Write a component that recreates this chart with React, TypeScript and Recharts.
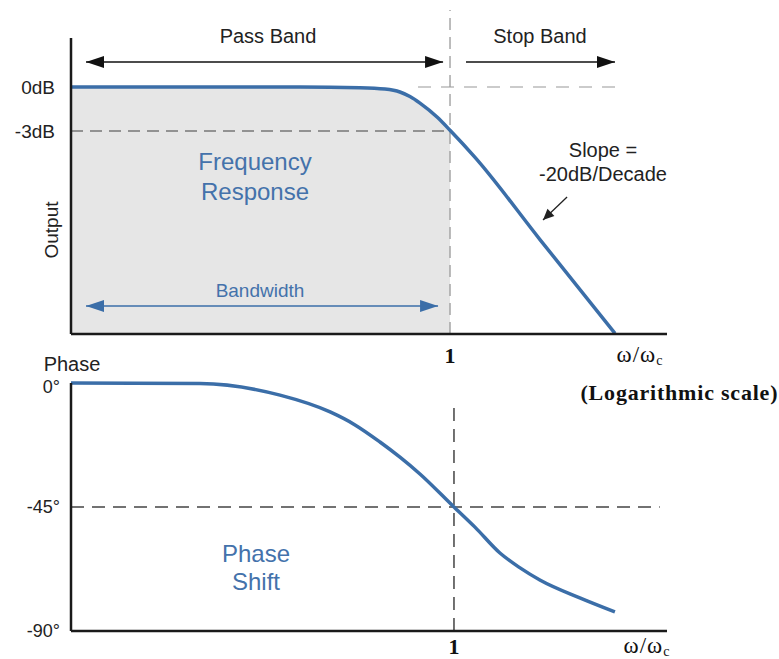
import React from "react";
import {
  Area,
  ComposedChart,
  Line,
  ReferenceLine,
  XAxis,
  YAxis,
} from "recharts";

// magnitude response, w/wc on a log axis
const freqTop = [0.00784, 0.147, 0.316, 0.435, 0.527, 0.599, 0.681, 0.847, 1, 1.377, 3.16, 8.25];
const magnitudeDb = [0, 0, -0.05, -0.14, -0.34, -0.65, -1.1, -2.05, -2.95, -4.8, -10.4, -16.8];

// phase response
const freqBottom = [
  0.00745, 0.0388, 0.108, 0.205, 0.282, 0.388, 0.501, 0.647, 1, 1.308, 1.8, 2.33, 3.0, 5.0, 7.84,
];
const phaseDeg = [
  0, -0.2, -4.4, -10.5, -15.2, -21.4, -26.9, -33.0, -45, -52.3, -61.7, -67.1, -71.5, -78, -83.1,
];

const dbTicks = [0, -3];
const phaseTicks = [0, -45, -90];
const cornerTicks = [1];

const magData = freqTop.map((w, i) => ({
  w,
  mag: magnitudeDb[i],
  shade: w <= 1 ? magnitudeDb[i] : null,
}));
const phaseData = freqBottom.map((w, i) => ({ w, phase: phaseDeg[i] }));

const BLUE = "#3b6ea8";
const TEXT_BLUE = "#4472ab";
const SANS = "'Liberation Sans', Arial, sans-serif";
const SERIF = "'Liberation Serif', 'Times New Roman', serif";
const AXIS = { stroke: "#1a1a1a", strokeWidth: 2.5 };

const arrow =
  (color: string, both: boolean, head = 18, half = 6, width = 1.6) =>
  (p: any) => {
    const { x1, y1, x2, y2 } = p;
    const a = Math.atan2(y2 - y1, x2 - x1);
    const tri = (x: number, y: number, ang: number) => {
      const bx = x - head * Math.cos(ang);
      const by = y - head * Math.sin(ang);
      return `${x},${y} ${bx - half * Math.sin(ang)},${by + half * Math.cos(ang)} ${
        bx + half * Math.sin(ang)
      },${by - half * Math.cos(ang)}`;
    };
    return (
      <g>
        <line x1={x1} y1={y1} x2={x2} y2={y2} stroke={color} strokeWidth={width} />
        <polygon points={tri(x2, y2, a)} fill={color} />
        {both && <polygon points={tri(x1, y1, a + Math.PI)} fill={color} />}
      </g>
    );
  };

const OmegaLabel = ({ x, y }: { x: number; y: number }) => (
  <text x={x} y={y} textAnchor="middle" fontFamily={SERIF} fontSize={23} fill="#111" letterSpacing={1}>
    ω/ω
    <tspan fontSize={14} dy={3}>
      c
    </tspan>
  </text>
);

const PhaseTick = (p: any) => {
  const { x, y, payload } = p;
  return (
    <text
      x={x}
      y={y + (payload.value === 0 ? 4 : 0)}
      dy="0.35em"
      textAnchor="end"
      fontFamily={SANS}
      fontSize={18}
      fill="#222"
    >
      {payload.value}°
    </text>
  );
};

export default function App() {
  return (
    <div
      style={{
        position: "absolute",
        left: 0,
        top: 0,
        width: 779,
        height: 659,
        background: "#fff",
      }}
    >
      <div style={{ position: "absolute", left: 0, top: 0 }}>
        <ComposedChart
          width={779}
          height={370}
          data={magData}
          margin={{ top: 38, right: 112, bottom: 6, left: 11 }}
        >
          <XAxis
            dataKey="w"
            type="number"
            scale="log"
            domain={[0.00784, 16.05]}
            ticks={cornerTicks}
            height={30}
            axisLine={AXIS}
            tickLine={false}
            tickSize={0}
            tickMargin={13}
            tick={{ fill: "#111", fontSize: 22, fontWeight: 700, fontFamily: SERIF }}
          />
          <YAxis
            type="number"
            domain={[-16.84, 3.34]}
            ticks={dbTicks}
            width={60}
            axisLine={AXIS}
            tickLine={false}
            tickSize={0}
            tickMargin={16}
            tickFormatter={(v: number) => `${v}dB`}
            tick={{ fill: "#222", fontSize: 19, fontFamily: SANS }}
          />
          <Area
            dataKey="shade"
            type="monotone"
            baseValue="dataMin"
            fill="#e6e6e6"
            fillOpacity={1}
            stroke="none"
            isAnimationActive={false}
          />
          <ReferenceLine
            segment={[{ x: 0.00784, y: -3 }, { x: 1, y: -3 }]}
            stroke="#777"
            strokeWidth={1.3}
            strokeDasharray="12 7"
          />
          <ReferenceLine
            segment={[{ x: 0.664, y: 0 }, { x: 8.47, y: 0 }]}
            stroke="#bbb"
            strokeWidth={1.3}
            strokeDasharray="13 10"
          />
          <ReferenceLine
            segment={[{ x: 1, y: -16.84 }, { x: 1, y: 5.25 }]}
            ifOverflow="visible"
            stroke="#999"
            strokeWidth={1.3}
            strokeDasharray="12 7"
          />
          <ReferenceLine
            segment={[{ x: 0.0095, y: 1.7 }, { x: 0.915, y: 1.7 }]}
            shape={arrow("#111", true)}
          />
          <ReferenceLine
            segment={[{ x: 1.227, y: 1.7 }, { x: 8.25, y: 1.7 }]}
            shape={arrow("#111", false)}
          />
          <ReferenceLine
            segment={[{ x: 0.0095, y: -14.93 }, { x: 0.858, y: -14.93 }]}
            shape={arrow(BLUE, true)}
          />
          <ReferenceLine
            segment={[{ x: 4.47, y: -7.5 }, { x: 3.285, y: -9.07 }]}
            shape={arrow("#222", false, 11, 5, 1.3)}
          />
          <Line
            dataKey="mag"
            type="monotone"
            stroke={BLUE}
            strokeWidth={3.5}
            dot={false}
            isAnimationActive={false}
          />
        </ComposedChart>
      </div>
      {/* annotations on top of the shaded pass band */}
      <svg
        width={779}
        height={370}
        style={{ position: "absolute", left: 0, top: 0, pointerEvents: "none" }}
      >
        <text x={268} y={43} textAnchor="middle" fontFamily={SANS} fontSize={20} fill="#222">
          Pass Band
        </text>
        <text x={540} y={43} textAnchor="middle" fontFamily={SANS} fontSize={20} fill="#222">
          Stop Band
        </text>
        <text x={255} y={170} textAnchor="middle" fontFamily={SANS} fontSize={24} fill={TEXT_BLUE}>
          Frequency
        </text>
        <text x={255} y={200} textAnchor="middle" fontFamily={SANS} fontSize={24} fill={TEXT_BLUE}>
          Response
        </text>
        <text x={260} y={297} textAnchor="middle" fontFamily={SANS} fontSize={19} fill={TEXT_BLUE}>
          Bandwidth
        </text>
        <text x={603} y={157} textAnchor="middle" fontFamily={SANS} fontSize={20} fill="#222">
          Slope =
        </text>
        <text x={603} y={181} textAnchor="middle" fontFamily={SANS} fontSize={20} fill="#222">
          -20dB/Decade
        </text>
        <text
          x={58}
          y={230}
          textAnchor="middle"
          transform="rotate(-90 58 230)"
          fontFamily={SANS}
          fontSize={19}
          fill="#222"
        >
          Output
        </text>
        <OmegaLabel x={640} y={362} />
      </svg>
      <div style={{ position: "absolute", left: 0, top: 340 }}>
        <ComposedChart
          width={779}
          height={319}
          data={phaseData}
          margin={{ top: 43, right: 112, bottom: 8, left: 11 }}
        >
          <XAxis
            dataKey="w"
            type="number"
            scale="log"
            domain={[0.00745, 15.26]}
            ticks={cornerTicks}
            height={20}
            axisLine={AXIS}
            tickLine={false}
            tickSize={0}
            tickMargin={7}
            tick={{ fill: "#111", fontSize: 22, fontWeight: 700, fontFamily: SERIF }}
          />
          <YAxis
            type="number"
            domain={[-90, 0]}
            ticks={phaseTicks}
            width={60}
            axisLine={AXIS}
            tickLine={false}
            tickSize={0}
            tickMargin={11}
            tick={<PhaseTick />}
          />
          <ReferenceLine
            segment={[{ x: 0.00745, y: -45 }, { x: 13.9, y: -45 }]}
            stroke="#444"
            strokeWidth={1.5}
            strokeDasharray="13 8"
          />
          <ReferenceLine
            segment={[{ x: 1, y: -90 }, { x: 1, y: -6.2 }]}
            stroke="#444"
            strokeWidth={1.5}
            strokeDasharray="13 8"
          />
          <Line
            dataKey="phase"
            type="monotone"
            stroke={BLUE}
            strokeWidth={3.5}
            dot={false}
            isAnimationActive={false}
          />
          <text x={72} y={31} textAnchor="middle" fontFamily={SANS} fontSize={20} fill="#222">
            Phase
          </text>
          <text
            x={679}
            y={60}
            textAnchor="middle"
            fontFamily={SERIF}
            fontSize={22}
            fontWeight={700}
            fill="#111"
            textLength={197}
            lengthAdjust="spacing"
          >
            (Logarithmic scale)
          </text>
          <text x={256} y={222} textAnchor="middle" fontFamily={SANS} fontSize={24} fill={TEXT_BLUE}>
            Phase
          </text>
          <text x={256} y={250} textAnchor="middle" fontFamily={SANS} fontSize={24} fill={TEXT_BLUE}>
            Shift
          </text>
          <OmegaLabel x={647} y={313} />
        </ComposedChart>
      </div>
    </div>
  );
}
